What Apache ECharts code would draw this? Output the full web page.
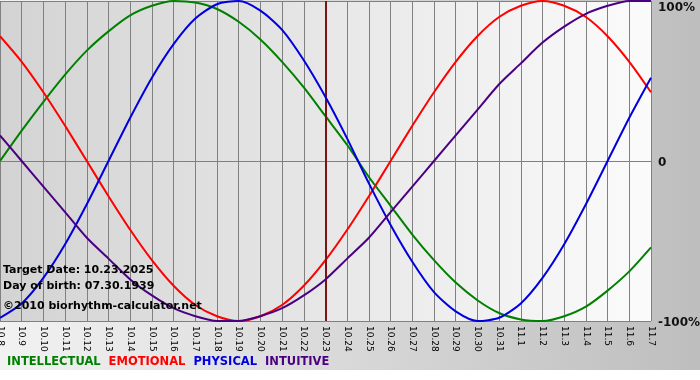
<!DOCTYPE html>
<html><head><meta charset="utf-8">
<script src="https://cdn.jsdelivr.net/npm/echarts@6/dist/echarts.min.js"></script>
<style>html,body{margin:0;padding:0;background:#fff;}#c{width:700px;height:370px;}</style>
</head><body><div id="c"></div>
<script>
var categories = ['10.8','10.9','10.10','10.11','10.12','10.13','10.14','10.15','10.16','10.17','10.18','10.19','10.20','10.21','10.22','10.23','10.24','10.25','10.26','10.27','10.28','10.29','10.30','10.31','11.1','11.2','11.3','11.4','11.5','11.6','11.7'];
var intellectual = [0,0.19,0.37,0.54,0.69,0.81,0.91,0.97,1.00,0.99,0.95,0.87,0.76,0.62,0.46,0.28,0.10,-0.10,-0.28,-0.46,-0.62,-0.76,-0.87,-0.95,-0.99,-1.00,-0.97,-0.91,-0.81,-0.69,-0.54];
var emotional = [0.78,0.62,0.43,0.22,0,-0.22,-0.43,-0.62,-0.78,-0.90,-0.97,-1.00,-0.97,-0.90,-0.78,-0.62,-0.43,-0.22,0,0.22,0.43,0.62,0.78,0.90,0.97,1.00,0.97,0.90,0.78,0.62,0.43];
var physical = [-0.98,-0.89,-0.73,-0.52,-0.27,0,0.27,0.52,0.73,0.89,0.98,1.00,0.94,0.82,0.63,0.40,0.14,-0.14,-0.40,-0.63,-0.82,-0.94,-1.00,-0.98,-0.89,-0.73,-0.52,-0.27,0,0.27,0.52];
var intuitive = [0.16,0,-0.16,-0.32,-0.48,-0.61,-0.74,-0.84,-0.92,-0.97,-1.00,-1.00,-0.97,-0.92,-0.84,-0.74,-0.61,-0.48,-0.32,-0.16,0,0.16,0.32,0.48,0.61,0.74,0.84,0.92,0.97,1.00,1.00];
var seriesNames = ['INTELLECTUAL','EMOTIONAL','PHYSICAL','INTUITIVE'];
var seriesColors = ['#008000','#ff0000','#0000dd','#4b0082'];
var targetDay = '10.23';
var infoLines = ['Target Date: 10.23.2025','Day of birth: 07.30.1939','\u00a92010 biorhythm-calculator.net'];
var yLabels = {'1':'100%','0':'0','-1':'-100%'};

var FONT = '"DejaVu Sans", Verdana, sans-serif';
var chart = echarts.init(document.getElementById('c'));
var dataSets = [intellectual, emotional, physical, intuitive];
var series = dataSets.map(function(d, i){
  return {name: seriesNames[i], type:'line', data:d, symbol:'none', smooth:0.25,
    lineStyle:{color:seriesColors[i], width:2}, itemStyle:{color:seriesColors[i]}, z: 3 + i, animation:false};
});
series[0].markLine = {silent:true, symbol:['none','none'], label:{show:false},
  lineStyle:{color:'#7a1414', width:2, type:'solid'}, data:[{xAxis: targetDay}], animation:false};

chart.setOption({
  animation:false,
  backgroundColor: new echarts.graphic.LinearGradient(0,0,1,0,[{offset:0,color:'#f2f2f2'},{offset:1,color:'#bebebe'}]),
  grid:{left:0, right:49, top:1, bottom:49, show:true, borderWidth:0, outerBoundsMode:'none', containLabel:false,
    backgroundColor: new echarts.graphic.LinearGradient(0,0,1,0,[{offset:0,color:'#d3d3d3'},{offset:1,color:'#fbfbfb'}])},
  legend:{left:2, top:351, itemWidth:0, itemHeight:0, itemGap:8, icon:'none', selectedMode:false,
    data: seriesNames.map(function(n,i){return {name:n, textStyle:{color:seriesColors[i]}};}),
    textStyle:{fontFamily:FONT, fontWeight:'bold', fontSize:11.5, padding:[0,0,0,-5]}},
  xAxis:{type:'category', data:categories, boundaryGap:false,
    axisLine:{show:true, lineStyle:{color:'#808080', width:1}},
    axisTick:{show:true, length:5, lineStyle:{color:'#808080'}, interval:0},
    splitLine:{show:true, interval:0, lineStyle:{color:'#808080', width:1}},
    axisLabel:{interval:0, rotate:-90, margin:5, fontFamily:FONT, fontSize:9, color:'#000', hideOverlap:false}},
  yAxis:{type:'value', position:'right', min:-1, max:1, interval:1,
    axisLine:{show:false}, axisTick:{show:false},
    splitLine:{show:true, lineStyle:{color:'#808080', width:1}},
    axisLabel:{margin:7, fontFamily:FONT, fontWeight:'bold', fontSize:12, color:'#111',
      formatter:function(v){ var t = yLabels[String(Math.round(v))];
        if (v > 0.5) return '{t|' + t + '}'; return '{n|' + t + '}'; },
      rich:{t:{fontFamily:FONT, fontWeight:'bold', fontSize:12, color:'#111', padding:[13,0,0,0]},
            n:{fontFamily:FONT, fontWeight:'bold', fontSize:12, color:'#111', padding:[4,0,0,0]}}}},
  graphic: infoLines.map(function(t, i){
    return {type:'text', left:3, top:[265,281,301][i], z:10,
      style:{text:t, fill:'#000', font:'bold 11px "DejaVu Sans", Verdana, sans-serif'}};
  }),
  series: series
});
</script></body></html>
